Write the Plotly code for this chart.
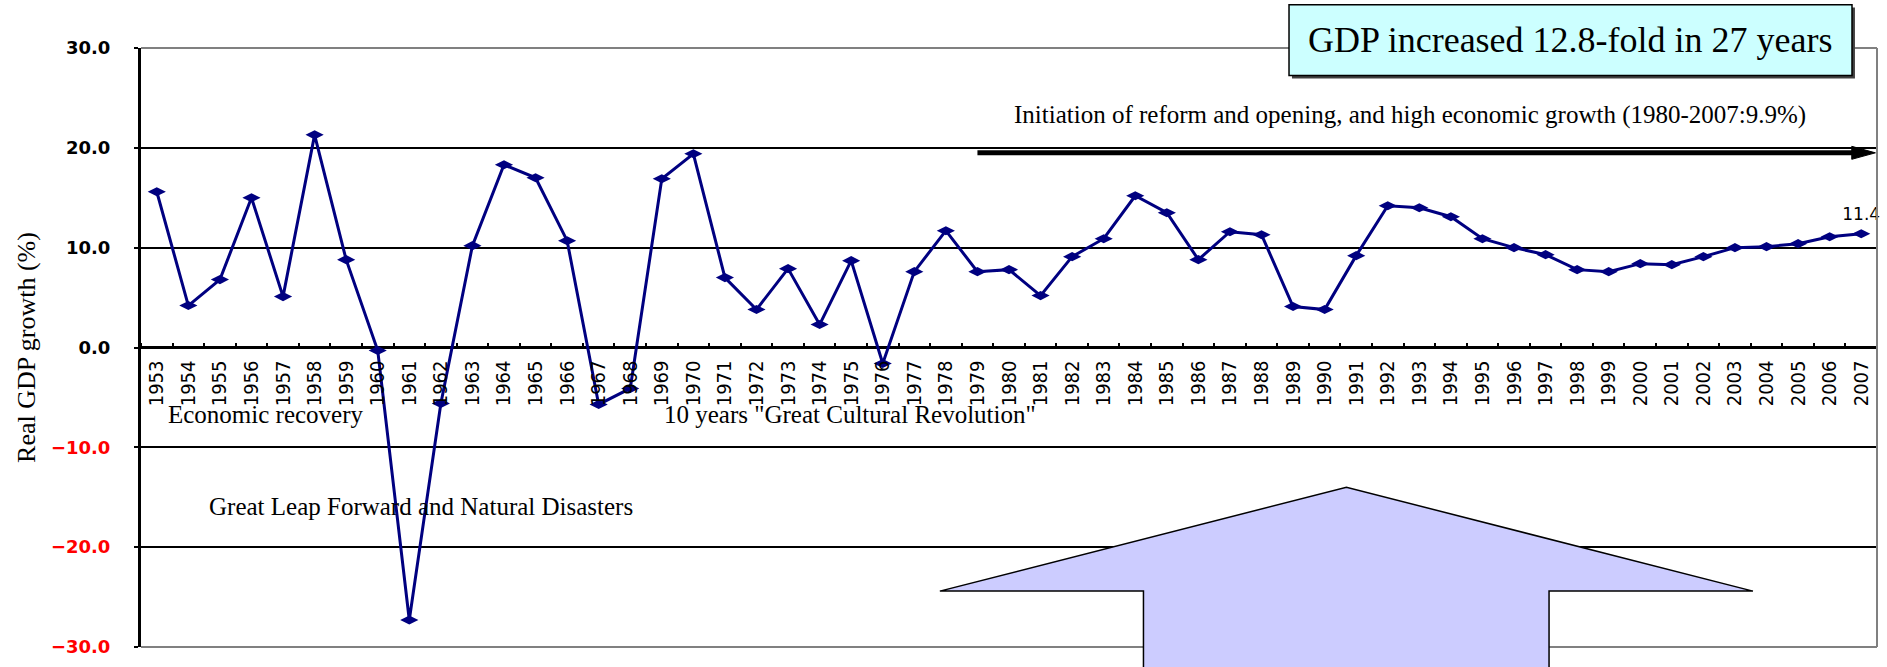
import plotly.graph_objects as go

# Real GDP growth of China, 1953-2007 (%)
years = list(range(1953, 2008))
growth = [15.6, 4.2, 6.8, 15.0, 5.1, 21.3, 8.8, -0.3, -27.3, -5.6,
          10.2, 18.3, 17.0, 10.7, -5.7, -4.1, 16.9, 19.4, 7.0, 3.8,
          7.9, 2.3, 8.7, -1.6, 7.6, 11.7, 7.6, 7.8, 5.2, 9.1,
          10.9, 15.2, 13.5, 8.8, 11.6, 11.3, 4.1, 3.8, 9.2, 14.2,
          14.0, 13.1, 10.9, 10.0, 9.3, 7.8, 7.6, 8.4, 8.3, 9.1,
          10.0, 10.1, 10.4, 11.1, 11.4]
y_ticks = [-30, -20, -10, 0, 10, 20, 30]

period_labels = [
    "Economic recovery",
    '10 years "Great Cultural Revolution"',
    "Great Leap Forward and Natural Disasters",
    "Initiation of reform and opening, and high economic growth (1980-2007:9.9%)",
]
headline = "GDP increased 12.8-fold in 27 years"

SERIF = "Liberation Serif, Times New Roman, serif"
NARROW = "Liberation Sans Narrow, DejaVu Sans Condensed, Liberation Sans, sans-serif"
WIDE = "DejaVu Sans, Verdana, sans-serif"


def ytick_text(v):
    if v < 0:
        return f"<span style='color:#ff0000'>\u2212{abs(v):.1f}</span>"
    return f"{v:.1f}"


point_text = [""] * (len(growth) - 1) + [f"{growth[-1]:.1f}"]

fig = go.Figure()
fig.add_trace(go.Scatter(
    x=years, y=growth,
    mode="lines+markers+text",
    line=dict(color="#000080", width=3),
    marker=dict(symbol="diamond-wide", size=13, color="#000080"),
    text=point_text, textposition="top center",
    textfont=dict(family=WIDE, size=17, color="black"),
    cliponaxis=False,
    hoverinfo="x+y",
))

fig.update_layout(
    width=1887, height=667,
    margin=dict(l=141, r=10, t=48, b=11),
    paper_bgcolor="white", plot_bgcolor="white",
    showlegend=False,
    xaxis=dict(
        type="linear", range=[1952.5, 2007.5],
        tickmode="array", tickvals=years, ticktext=[str(y) for y in years],
        tickangle=-90, tickfont=dict(family=NARROW, size=20, color="black"),
        ticks="", showgrid=False, zeroline=False, showline=False,
        anchor="free", position=0.5, ticklabelstandoff=8,
        minor=dict(tickmode="array",
                   tickvals=[y - 0.5 for y in years] + [years[-1] + 0.5],
                   ticks="inside", ticklen=5, tickwidth=2, tickcolor="black",
                   showgrid=False),
    ),
    yaxis=dict(
        range=[-30, 30], tickmode="array", tickvals=y_ticks,
        ticktext=[ytick_text(v) for v in y_ticks],
        tickfont=dict(family=WIDE, size=18, color="black", weight="bold"),
        ticks="outside", ticklen=4, tickwidth=2, tickcolor="black",
        ticklabelstandoff=20,
        showline=True, linecolor="black", linewidth=3,
        showgrid=True, gridcolor="black", gridwidth=2,
        zeroline=True, zerolinecolor="black", zerolinewidth=3,
        title=dict(text="Real GDP growth (%)",
                   font=dict(family=SERIF, size=26, color="black"),
                   standoff=8),
    ),
)

GRAY = "#808080"
shapes = [
    # plot-area frame (top, right, bottom)
    dict(type="line", xref="paper", yref="paper", x0=0, x1=1, y0=1, y1=1,
         line=dict(color=GRAY, width=2), layer="above"),
    dict(type="line", xref="paper", yref="paper", x0=1, x1=1, y0=0, y1=1,
         line=dict(color=GRAY, width=2), layer="above"),
    dict(type="line", xref="paper", yref="paper", x0=0, x1=1, y0=0, y1=0,
         line=dict(color=GRAY, width=2), layer="above"),
    # reform-era arrow
    dict(type="line", xref="x", yref="y", x0=1979.0, x1=2006.8, y0=19.5, y1=19.5,
         line=dict(color="black", width=5), layer="above"),
    dict(type="path", xref="x", yref="y",
         path="M 2006.7,20.15 L 2007.45,19.5 L 2006.7,18.85 Z",
         fillcolor="black", line=dict(color="black", width=1), layer="above"),
    # large upward arrow
    dict(type="path", xref="x", yref="paper",
         path=("M 1977.81,0.0933 L 1990.69,0.2667 L 2003.57,0.0933 "
               "L 1997.11,0.0933 L 1997.11,-0.05 L 1984.26,-0.05 "
               "L 1984.26,0.0933 Z"),
         fillcolor="#ccccff", line=dict(color="black", width=1.5), layer="above"),
    # headline box with shadow
    dict(type="rect", xref="paper", yref="paper",
         x0=0.6630, x1=0.9873, y0=0.9491, y1=1.0675,
         fillcolor="#404040", line=dict(width=0), layer="above"),
    dict(type="rect", xref="paper", yref="paper",
         x0=0.6613, x1=0.9856, y0=0.954, y1=1.0724,
         fillcolor="#ccffff", line=dict(color="black", width=1.5), layer="above"),
]
fig.update_layout(shapes=shapes)

text_font = dict(family=SERIF, size=25, color="black")
annotations = [
    dict(x=1953.3, y=-6.7, text=period_labels[0]),
    dict(x=1969.0, y=-6.7, text=period_labels[1]),
    dict(x=1954.6, y=-15.9, text=period_labels[2]),
    dict(x=1980.1, y=23.3, text=period_labels[3]),
]
for a in annotations:
    a.update(xref="x", yref="y", xanchor="left", yanchor="middle",
             showarrow=False, font=text_font)
annotations.append(dict(
    xref="paper", yref="paper", x=0.8235, y=1.0132,
    xanchor="center", yanchor="middle", showarrow=False,
    text=headline, font=dict(family=SERIF, size=36, color="black"),
))
fig.update_layout(annotations=annotations)

fig.write_html("out.html")
